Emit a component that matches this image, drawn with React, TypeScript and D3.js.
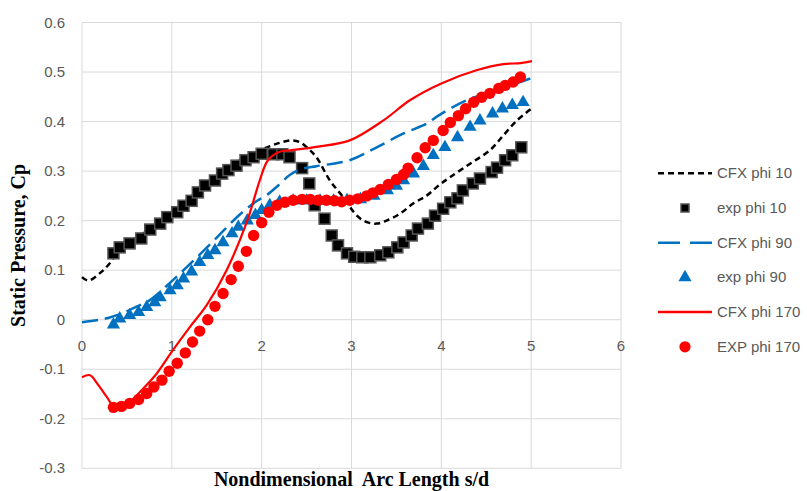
import React, { useEffect, useRef } from 'react';
import * as d3 from 'd3';

// CFX phi 10 (black short dashes)
const cfx10X = [0, 0.07, 0.2, 0.31, 0.45, 0.65, 0.87, 1.06, 1.29, 1.48, 1.72, 1.91, 2.06, 2.2, 2.32, 2.43, 2.52, 2.61, 2.76, 2.91, 3.06, 3.17, 3.28, 3.39, 3.54, 3.69, 3.84, 3.97, 4.1, 4.32, 4.54, 4.69, 4.84, 5.01];
const cfx10Y = [0.086, 0.079, 0.094, 0.114, 0.15, 0.17, 0.2, 0.225, 0.26, 0.287, 0.318, 0.336, 0.348, 0.357, 0.362, 0.358, 0.345, 0.328, 0.281, 0.247, 0.21, 0.197, 0.194, 0.2, 0.214, 0.235, 0.251, 0.271, 0.288, 0.315, 0.342, 0.372, 0.402, 0.427];

// exp phi 10 (black squares)
const exp10X = [0.35, 0.42, 0.53, 0.66, 0.76, 0.87, 0.95, 1.06, 1.13, 1.22, 1.29, 1.37, 1.48, 1.56, 1.63, 1.72, 1.82, 1.91, 2.0, 2.13, 2.23, 2.31, 2.45, 2.53, 2.59, 2.7, 2.78, 2.85, 2.95, 3.03, 3.12, 3.21, 3.32, 3.41, 3.51, 3.58, 3.67, 3.74, 3.85, 3.93, 4.02, 4.1, 4.18, 4.24, 4.35, 4.43, 4.56, 4.62, 4.71, 4.79, 4.89];
const exp10Y = [0.134, 0.146, 0.154, 0.164, 0.182, 0.194, 0.207, 0.217, 0.23, 0.24, 0.257, 0.271, 0.281, 0.295, 0.302, 0.311, 0.322, 0.328, 0.335, 0.334, 0.334, 0.328, 0.306, 0.275, 0.231, 0.204, 0.17, 0.15, 0.134, 0.127, 0.126, 0.126, 0.13, 0.136, 0.146, 0.156, 0.17, 0.184, 0.194, 0.21, 0.224, 0.237, 0.245, 0.261, 0.275, 0.285, 0.298, 0.307, 0.322, 0.332, 0.348];

// CFX phi 90 (blue long dashes)
const cfx90X = [0, 0.2, 0.3, 0.45, 0.6, 0.76, 1.0, 1.2, 1.48, 1.76, 1.95, 2.06, 2.19, 2.32, 2.46, 2.61, 2.98, 3.28, 3.58, 3.84, 3.95, 4.28, 4.62, 4.99];
const cfx90Y = [-0.005, 0.0, 0.004, 0.013, 0.026, 0.04, 0.078, 0.112, 0.162, 0.213, 0.24, 0.252, 0.272, 0.293, 0.305, 0.31, 0.322, 0.348, 0.376, 0.396, 0.41, 0.443, 0.463, 0.487];

// exp phi 90 (blue triangles)
const exp90X = [0.35, 0.42, 0.53, 0.63, 0.72, 0.81, 0.87, 0.98, 1.06, 1.13, 1.22, 1.31, 1.4, 1.48, 1.57, 1.67, 1.74, 1.84, 1.93, 2.0, 2.09, 2.2, 2.35, 2.5, 2.65, 2.8, 2.95, 3.1, 3.25, 3.4, 3.5, 3.58, 3.69, 3.8, 3.91, 4.04, 4.18, 4.32, 4.43, 4.57, 4.68, 4.79, 4.91];
const exp90Y = [-0.01, 0.002, 0.009, 0.015, 0.025, 0.035, 0.045, 0.059, 0.069, 0.083, 0.097, 0.116, 0.13, 0.14, 0.156, 0.174, 0.187, 0.2, 0.211, 0.221, 0.231, 0.238, 0.24, 0.24, 0.24, 0.24, 0.241, 0.243, 0.25, 0.261, 0.27, 0.281, 0.295, 0.31, 0.332, 0.348, 0.368, 0.389, 0.402, 0.416, 0.426, 0.433, 0.439];

// CFX phi 170 (red solid)
const cfx170X = [0, 0.09, 0.17, 0.28, 0.35, 0.45, 0.55, 0.65, 0.83, 1.01, 1.2, 1.39, 1.61, 1.84, 1.98, 2.07, 2.2, 2.32, 2.61, 2.98, 3.36, 3.65, 4.0, 4.4, 4.69, 4.88, 5.01];
const cfx170Y = [-0.116, -0.112, -0.129, -0.157, -0.174, -0.172, -0.163, -0.145, -0.109, -0.062, -0.015, 0.03, 0.1, 0.2, 0.282, 0.322, 0.339, 0.342, 0.349, 0.362, 0.403, 0.443, 0.477, 0.504, 0.516, 0.518, 0.522];

// EXP phi 170 (red circles)
const exp170X = [0.35, 0.44, 0.53, 0.63, 0.72, 0.8, 0.89, 0.97, 1.06, 1.15, 1.23, 1.31, 1.4, 1.48, 1.57, 1.66, 1.74, 1.83, 1.91, 2.0, 2.08, 2.17, 2.26, 2.35, 2.45, 2.54, 2.63, 2.72, 2.81, 2.89, 2.98, 3.07, 3.17, 3.24, 3.32, 3.41, 3.5, 3.58, 3.63, 3.73, 3.82, 3.91, 4.02, 4.1, 4.19, 4.27, 4.36, 4.45, 4.54, 4.64, 4.71, 4.8, 4.88];
const exp170Y = [-0.177, -0.175, -0.169, -0.161, -0.149, -0.136, -0.122, -0.104, -0.088, -0.067, -0.045, -0.023, 0.0, 0.027, 0.053, 0.081, 0.108, 0.138, 0.17, 0.196, 0.217, 0.231, 0.237, 0.241, 0.243, 0.243, 0.241, 0.241, 0.24, 0.238, 0.241, 0.244, 0.25, 0.256, 0.263, 0.273, 0.283, 0.293, 0.306, 0.327, 0.347, 0.362, 0.382, 0.398, 0.412, 0.426, 0.439, 0.449, 0.457, 0.467, 0.473, 0.48, 0.49];

const xTicks = [0, 1, 2, 3, 4, 5, 6];
const yTicks = [-0.3, -0.2, -0.1, 0, 0.1, 0.2, 0.3, 0.4, 0.5, 0.6];
const yTickLabels = ['-0.3', '-0.2', '-0.1', '0', '0.1', '0.2', '0.3', '0.4', '0.5', '0.6'];
const legendLabels = ['CFX phi 10', 'exp phi 10', 'CFX phi 90', 'exp phi 90', 'CFX phi 170', 'EXP phi 170'];

const W = 807;
const H = 491;
const GRID = '#d9d9d9';
const TXT = '#595959';
const BLUE = '#0070c0';
const RED = '#ff0000';

const zip = (xs: number[], ys: number[]) => xs.map((x, i) => [x, ys[i]] as [number, number]);

export default function App() {
  const ref = useRef<SVGSVGElement>(null);

  useEffect(() => {
    const svg = d3.select(ref.current);
    svg.selectAll('*').remove();

    const x = d3.scaleLinear().domain([0, 6]).range([82, 621]);
    const y = d3.scaleLinear().domain([-0.3, 0.6]).range([468.3, 22.5]);

    svg.append('rect').attr('width', W).attr('height', H).attr('fill', '#fff');

    // gridlines
    const g = svg.append('g');
    g.selectAll('line.h').data(yTicks).enter().append('line')
      .attr('x1', x(0)).attr('x2', x(6))
      .attr('y1', d => y(d)).attr('y2', d => y(d))
      .attr('stroke', GRID).attr('stroke-width', 1);
    g.selectAll('line.v').data(xTicks).enter().append('line')
      .attr('x1', d => x(d)).attr('x2', d => x(d))
      .attr('y1', y(0.6)).attr('y2', y(-0.3))
      .attr('stroke', GRID).attr('stroke-width', 1);

    // tick labels
    const font = '"Liberation Sans", Arial, sans-serif';
    g.selectAll('text.yt').data(yTicks).enter().append('text')
      .attr('x', 65).attr('y', d => y(d) + 5)
      .attr('text-anchor', 'end')
      .attr('font-family', font).attr('font-size', 15).attr('fill', TXT)
      .text((d, i) => yTickLabels[i]);
    g.selectAll('text.xt').data(xTicks).enter().append('text')
      .attr('x', d => x(d)).attr('y', y(0) + 31)
      .attr('text-anchor', 'middle')
      .attr('font-family', font).attr('font-size', 15).attr('fill', TXT)
      .text(d => String(d));

    // axis titles
    const serif = '"Liberation Serif", "Times New Roman", serif';
    svg.append('text')
      .attr('x', (x(0) + x(6)) / 2).attr('y', 486)
      .attr('text-anchor', 'middle')
      .attr('font-family', serif)
      .attr('font-weight', 'bold').attr('font-size', 20).attr('fill', '#000')
      .style('white-space', 'pre')
      .text('Nondimensional  Arc Length s/d');
    svg.append('text')
      .attr('transform', `translate(25,${(y(0.6) + y(-0.3)) / 2}) rotate(-90)`)
      .attr('text-anchor', 'middle')
      .attr('font-family', serif)
      .attr('font-weight', 'bold').attr('font-size', 20).attr('fill', '#000')
      .text('Static Pressure, Cp');

    const line = d3.line<[number, number]>()
      .x(d => x(d[0])).y(d => y(d[1]))
      .curve(d3.curveCatmullRom.alpha(0.5));

    const plot = svg.append('g');
    const tri = d3.symbol().type(d3.symbolTriangle).size(75);

    // CFX phi 10
    plot.append('path').datum(zip(cfx10X, cfx10Y))
      .attr('d', line).attr('fill', 'none').attr('stroke', '#000')
      .attr('stroke-width', 2.5).attr('stroke-dasharray', '6,4');
    // exp phi 10
    plot.selectAll('rect.s').data(zip(exp10X, exp10Y)).enter().append('rect')
      .attr('x', d => x(d[0]) - 5.5).attr('y', d => y(d[1]) - 5.5)
      .attr('width', 11).attr('height', 11)
      .attr('fill', '#000').attr('stroke', '#555').attr('stroke-width', 1.5);
    // CFX phi 90
    plot.append('path').datum(zip(cfx90X, cfx90Y))
      .attr('d', line).attr('fill', 'none').attr('stroke', BLUE)
      .attr('stroke-width', 2.5).attr('stroke-dasharray', '16,7');
    // exp phi 90
    plot.selectAll('path.t').data(zip(exp90X, exp90Y)).enter().append('path')
      .attr('d', tri)
      .attr('transform', d => `translate(${x(d[0])},${y(d[1])})`)
      .attr('fill', BLUE);
    // CFX phi 170
    plot.append('path').datum(zip(cfx170X, cfx170Y))
      .attr('d', line).attr('fill', 'none').attr('stroke', RED)
      .attr('stroke-width', 2.2);
    // EXP phi 170
    plot.selectAll('circle.c').data(zip(exp170X, exp170Y)).enter().append('circle')
      .attr('cx', d => x(d[0])).attr('cy', d => y(d[1])).attr('r', 5.7)
      .attr('fill', RED);

    // legend
    const lg = svg.append('g');
    const rowY = (i: number) => 173.3 + i * 34.7;
    legendLabels.forEach((label, i) => {
      const cy = rowY(i);
      if (i === 0) {
        lg.append('line').attr('x1', 658).attr('x2', 712).attr('y1', cy).attr('y2', cy)
          .attr('stroke', '#000').attr('stroke-width', 2.5).attr('stroke-dasharray', '6,4');
      } else if (i === 1) {
        lg.append('rect').attr('x', 681).attr('y', cy - 4).attr('width', 8).attr('height', 8)
          .attr('fill', '#000').attr('stroke', '#555').attr('stroke-width', 1.5);
      } else if (i === 2) {
        lg.append('line').attr('x1', 658).attr('x2', 712).attr('y1', cy).attr('y2', cy)
          .attr('stroke', BLUE).attr('stroke-width', 2.5).attr('stroke-dasharray', '22,10');
      } else if (i === 3) {
        lg.append('path').attr('d', tri).attr('transform', `translate(685,${cy})`).attr('fill', BLUE);
      } else if (i === 4) {
        lg.append('line').attr('x1', 658).attr('x2', 712).attr('y1', cy).attr('y2', cy)
          .attr('stroke', RED).attr('stroke-width', 2.5);
      } else {
        lg.append('circle').attr('cx', 685).attr('cy', cy).attr('r', 5.6).attr('fill', RED);
      }
      lg.append('text').attr('x', 717).attr('y', cy + 5)
        .attr('font-family', font).attr('font-size', 15).attr('fill', TXT)
        .text(label);
    });
  }, []);

  return (
    <div style={{ position: 'absolute', left: 0, top: 0 }}>
      <svg ref={ref} width={W} height={H} style={{ display: 'block' }} />
    </div>
  );
}
